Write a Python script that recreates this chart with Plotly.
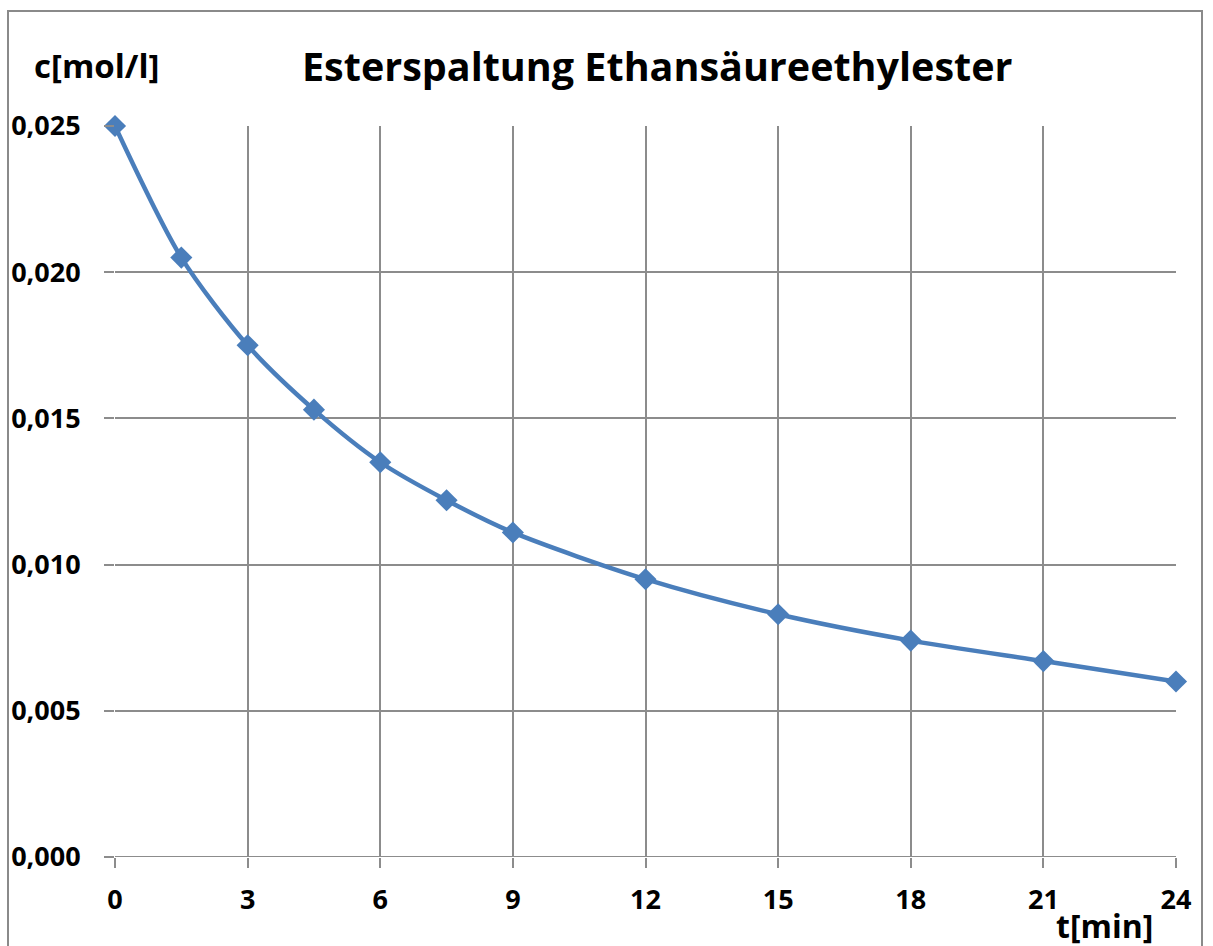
import plotly.graph_objects as go

# Ester hydrolysis of ethyl acetate: concentration over time
t_min = [0, 1.5, 3, 4.5, 6, 7.5, 9, 12, 15, 18, 21, 24]
c_mol_l = [0.0250, 0.0205, 0.0175, 0.0153, 0.0135, 0.0122, 0.0111,
           0.0095, 0.0083, 0.0074, 0.0067, 0.0060]

x_ticks = [0, 3, 6, 9, 12, 15, 18, 21, 24]
y_ticks = [0.000, 0.005, 0.010, 0.015, 0.020, 0.025]
y_tick_text = ["0,000", "0,005", "0,010", "0,015", "0,020", "0,025"]

FONT = "Open Sans"
BLUE = "#4a7ebb"
GRID = "#8c8c8c"

fig = go.Figure()
fig.add_trace(go.Scatter(
    x=t_min, y=c_mol_l,
    mode="lines+markers",
    line=dict(color=BLUE, width=4.5, shape="spline", smoothing=0.8),
    marker=dict(symbol="diamond", size=17, color=BLUE),
    cliponaxis=False,
    showlegend=False,
    hoverinfo="x+y",
))

fig.update_layout(
    width=1213, height=946, autosize=False,
    margin=dict(l=115, r=37, t=126, b=89),
    paper_bgcolor="white", plot_bgcolor="white",
    font=dict(family=FONT, color="black"),
    xaxis=dict(
        range=[0, 24], tickvals=x_ticks, ticktext=[str(v) for v in x_ticks],
        showgrid=True, gridcolor=GRID, gridwidth=2,
        zeroline=False, showline=False,
        ticks="outside", ticklen=10, tickwidth=2, tickcolor=GRID,
        ticklabelstandoff=9,
        tickfont=dict(family=FONT, size=27, color="black", weight="bold"),
    ),
    yaxis=dict(
        range=[0, 0.025], tickvals=y_ticks, ticktext=y_tick_text,
        showgrid=True, gridcolor=GRID, gridwidth=2,
        zeroline=False, showline=False,
        ticks="outside", ticklen=10, tickwidth=2, tickcolor=GRID,
        ticklabelstandoff=18,
        tickfont=dict(family=FONT, size=27, color="black", weight="bold"),
    ),
    shapes=[
        # baseline of the plot in grid colour
        dict(type="line", xref="x", yref="y", x0=0, x1=24, y0=0, y1=0,
             line=dict(color=GRID, width=2), layer="below"),
        # outer chart frame
        dict(type="rect", xref="paper", yref="paper",
             x0=(8 - 115) / 1061, x1=(1202 - 115) / 1061,
             y0=(857 - 960) / 731, y1=(857 - 11) / 731,
             line=dict(color="#8a8a8a", width=2)),
    ],
    annotations=[
        dict(text="Esterspaltung Ethansäureethylester",
             xref="paper", yref="paper",
             x=(657 - 115) / 1061, y=(857 - 66) / 731,
             xanchor="center", yanchor="middle", showarrow=False,
             font=dict(family=FONT, size=39.5, color="black", weight="bold")),
        dict(text="c[mol/l]", xref="paper", yref="paper",
             x=(32 - 115) / 1061, y=(857 - 66) / 731,
             xanchor="left", yanchor="middle", showarrow=False,
             font=dict(family=FONT, size=33, color="black", weight="bold")),
        dict(text="t[min]", xref="paper", yref="paper",
             x=(1155 - 115) / 1061, y=(857 - 925) / 731,
             xanchor="right", yanchor="middle", showarrow=False,
             font=dict(family=FONT, size=32, color="black", weight="bold")),
    ],
)

fig.write_html("out.html")
